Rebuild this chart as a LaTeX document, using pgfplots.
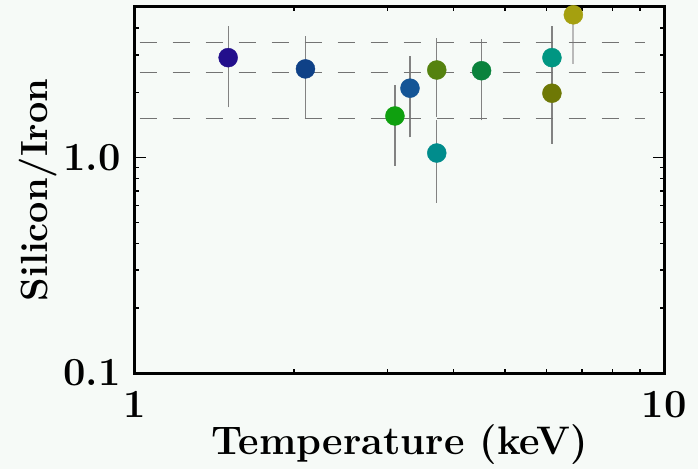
\documentclass[border=0pt]{standalone}
\usepackage{pgfplots}
\pgfplotsset{compat=1.18}

\definecolor{bgc}{RGB}{246,250,247}
\definecolor{dashgray}{RGB}{115,115,115}
\definecolor{bargray}{RGB}{130,130,130}
\definecolor{barlight}{RGB}{185,185,185}
\definecolor{cA}{RGB}{35,15,140}
\definecolor{cB}{RGB}{15,65,135}
\definecolor{cC}{RGB}{15,160,15}
\definecolor{cD}{RGB}{20,85,150}
\definecolor{cE}{RGB}{85,130,15}
\definecolor{cF}{RGB}{0,140,140}
\definecolor{cG}{RGB}{10,130,60}
\definecolor{cH}{RGB}{0,150,130}
\definecolor{cI}{RGB}{110,120,5}
\definecolor{cJ}{RGB}{165,160,15}

\newcommand{\lbl}{\fontsize{40}{44}\selectfont\bfseries}
\newcommand{\ylbl}{\fontsize{38}{42}\selectfont\bfseries}

\begin{document}
\begin{tikzpicture}
  \fill[bgc] (-135bp,-96bp) rectangle (563bp,373bp);
  \useasboundingbox (-135bp,-96bp) rectangle (563bp,373bp);
  \begin{axis}[
      scale only axis,
      width=529bp, height=366bp,
      xmode=log, ymode=log,
      xmin=1, xmax=10, ymin=0.1, ymax=5,
      clip=false,
      axis line style={line width=3bp, black},
      xtick={1,10}, xticklabels={1,10},
      ytick={0.1,1}, yticklabels={0.1,1.0},
      minor xtick={2,3,4,5,6,7,8,9},
      minor ytick={0.2,0.3,0.4,0.5,0.6,0.7,0.8,0.9,2,3,4,5},
      major tick length=11bp, minor tick length=4bp,
      every tick/.style={black, line width=1.5bp},
      tick align=inside,
      xticklabel style={font=\lbl, anchor=base, inner sep=0pt, yshift=-44bp},
      yticklabel style={font=\lbl, anchor=east, inner sep=0pt, xshift=-14bp},
      xlabel={Temperature (keV)},
      ylabel={Silicon/Iron},
      every axis x label/.style={font=\lbl, at={(axis description cs:0.5,-0.224)}, anchor=base},
      every axis y label/.style={font=\ylbl, at={(axis description cs:-0.166,0.5)}, rotate=90, anchor=base},
      dot/.style={only marks, mark=*, mark size=9.5bp},
    ]
    % markers
    \addplot[dot, color=cA] coordinates {(1.50,2.91)};
    \addplot[dot, color=cB] coordinates {(2.10,2.58)};
    \addplot[dot, color=cC] coordinates {(3.10,1.56)};
    \addplot[dot, color=cD] coordinates {(3.31,2.10)};
    \addplot[dot, color=cE] coordinates {(3.72,2.55)};
    \addplot[dot, color=cF] coordinates {(3.72,1.05)};
    \addplot[dot, color=cG] coordinates {(4.52,2.53)};
    \addplot[dot, color=cH] coordinates {(6.14,2.91)};
    \addplot[dot, color=cI] coordinates {(6.14,1.99)};
    \addplot[dot, color=cJ] coordinates {(6.74,4.60)};
    % error bars
    \addplot[bargray, line width=1.2bp] coordinates {(1.50,1.71) (1.50,4.10)};
    \addplot[bargray, line width=1.2bp] coordinates {(2.10,1.52) (2.10,3.67)};
    \addplot[bargray, line width=1.2bp] coordinates {(3.10,0.916) (3.10,2.17)};
    \addplot[bargray, line width=1.2bp] coordinates {(3.31,1.24) (3.31,2.96)};
    \addplot[bargray, line width=1.2bp] coordinates {(3.72,1.55) (3.72,3.58)};
    \addplot[bargray, line width=1.2bp] coordinates {(3.72,0.616) (3.72,1.49)};
    \addplot[bargray, line width=1.2bp] coordinates {(4.52,1.49) (4.52,3.55)};
    \addplot[bargray, line width=1.2bp] coordinates {(6.14,2.10) (6.14,4.09)};
    \addplot[bargray, line width=1.2bp] coordinates {(6.14,1.16) (6.14,2.60)};
    \addplot[barlight, line width=2bp] coordinates {(6.74,2.72) (6.74,5.0)};
    % reference levels
    \addplot[dashgray, line width=1.3bp, dash pattern=on 17bp off 16bp] coordinates {(1.02,3.43) (9.2,3.43)};
    \addplot[dashgray, line width=1.3bp, dash pattern=on 17bp off 16bp] coordinates {(1.02,2.49) (9.2,2.49)};
    \addplot[dashgray, line width=1.3bp, dash pattern=on 17bp off 16bp] coordinates {(1.02,1.52) (9.2,1.52)};
  \end{axis}
\end{tikzpicture}
\end{document}
